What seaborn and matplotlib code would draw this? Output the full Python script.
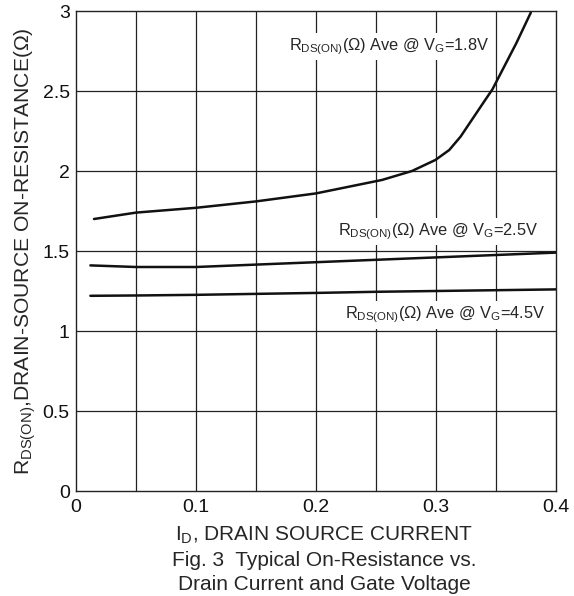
import matplotlib
matplotlib.use("Agg")
import matplotlib.pyplot as plt
import seaborn as sns
import pandas as pd
import numpy as np

# ---- data ----
x_18 = [0.015, 0.05, 0.10, 0.15, 0.20, 0.255, 0.28, 0.2995, 0.311, 0.3205, 0.329, 0.341, 0.347, 0.357, 0.367, 0.379]
y_18 = [1.70, 1.74, 1.77, 1.81, 1.86, 1.944, 2.00, 2.069, 2.131, 2.215, 2.31, 2.444, 2.51, 2.655, 2.80, 2.99]
x_25 = [0.012, 0.05, 0.10, 0.15, 0.20, 0.25, 0.30, 0.35, 0.40]
y_25 = [1.41, 1.40, 1.40, 1.415, 1.43, 1.445, 1.46, 1.475, 1.49]
x_45 = [0.012, 0.05, 0.10, 0.15, 0.20, 0.25, 0.30, 0.35, 0.40]
y_45 = [1.22, 1.222, 1.226, 1.232, 1.238, 1.245, 1.25, 1.255, 1.26]
series_names = ["1.8V", "2.5V", "4.5V"]
x_ticks = [0, 0.1, 0.2, 0.3, 0.4]
x_ticklabels = ["0", "0.1", "0.2", "0.3", "0.4"]
y_ticks = [0, 0.5, 1, 1.5, 2, 2.5, 3]
y_ticklabels = ["0", "0.5", "1", "1.5", "2", "2.5", "3"]

df = pd.concat([
    pd.DataFrame({"x": x_18, "y": y_18, "s": series_names[0]}),
    pd.DataFrame({"x": x_25, "y": y_25, "s": series_names[1]}),
    pd.DataFrame({"x": x_45, "y": y_45, "s": series_names[2]}),
])

sns.set_style("white")
plt.rcParams["font.family"] = ["Liberation Sans", "DejaVu Sans"]
plt.rcParams["mathtext.fontset"] = "custom"
plt.rcParams["mathtext.rm"] = "Liberation Sans"
plt.rcParams["mathtext.it"] = "Liberation Sans"

W, H = 574, 596
fig = plt.figure(figsize=(W / 100, H / 100), dpi=100)
L, R, T, B = 76, 556, 11, 491
ax = fig.add_axes([L / W, (H - B) / H, (R - L) / W, (B - T) / H])

# grid
for gx in np.arange(0.05, 0.4, 0.05):
    ax.axvline(gx, color="#222222", lw=0.9, zorder=1)
for gy in np.arange(0.5, 3.0, 0.5):
    ax.axhline(gy, color="#222222", lw=0.9, zorder=1)

sns.lineplot(data=df, x="x", y="y", hue="s", palette=["#111111"] * 3,
             linewidth=1.8, legend=False, ax=ax, zorder=3, sort=True)

ax.set_xlim(0, 0.4)
ax.set_ylim(0, 3)
ax.set_xticks(x_ticks)
ax.set_xticklabels(x_ticklabels)
ax.set_yticks(y_ticks)
ax.set_yticklabels(y_ticklabels)
ax.tick_params(length=0, labelsize=14, colors="#111111")
ax.tick_params(axis="x", pad=6)
ax.tick_params(axis="y", pad=4.5)
for sp in ax.spines.values():
    sp.set_visible(True)
    sp.set_color("#222222")
    sp.set_linewidth(1.0)

ax.set_xlabel("")
ax.set_ylabel(r"R$_{\mathregular{DS(ON)}}$,DRAIN-SOURCE ON-RESISTANCE(Ω)", fontsize=15.2, labelpad=3)

cx = 324 / W
fig.text(cx, 1 - 541 / H, r"I$_{\mathregular{D}}$, DRAIN SOURCE CURRENT",
         ha="center", va="baseline", fontsize=15)
fig.text(cx, 1 - 566.5 / H, "Fig. 3  Typical On-Resistance vs.",
         ha="center", va="baseline", fontsize=15)
fig.text(cx, 1 - 590 / H, "Drain Current and Gate Voltage",
         ha="center", va="baseline", fontsize=15)

bbox = dict(facecolor="white", edgecolor="none", pad=2.5)
ax.text(0.261, 2.756, r"R$_{\mathregular{DS(ON)}}$(Ω) Ave @ V$_{\mathregular{G}}$=1.8V",
        ha="center", va="baseline", fontsize=11.8, bbox=bbox, zorder=4)
ax.text(0.302, 1.60, r"R$_{\mathregular{DS(ON)}}$(Ω) Ave @ V$_{\mathregular{G}}$=2.5V",
        ha="center", va="baseline", fontsize=11.8, bbox=bbox, zorder=4)
ax.text(0.308, 1.079, r"R$_{\mathregular{DS(ON)}}$(Ω) Ave @ V$_{\mathregular{G}}$=4.5V",
        ha="center", va="baseline", fontsize=11.8, bbox=bbox, zorder=4)

fig.savefig("out.png", dpi=100, facecolor="white")
